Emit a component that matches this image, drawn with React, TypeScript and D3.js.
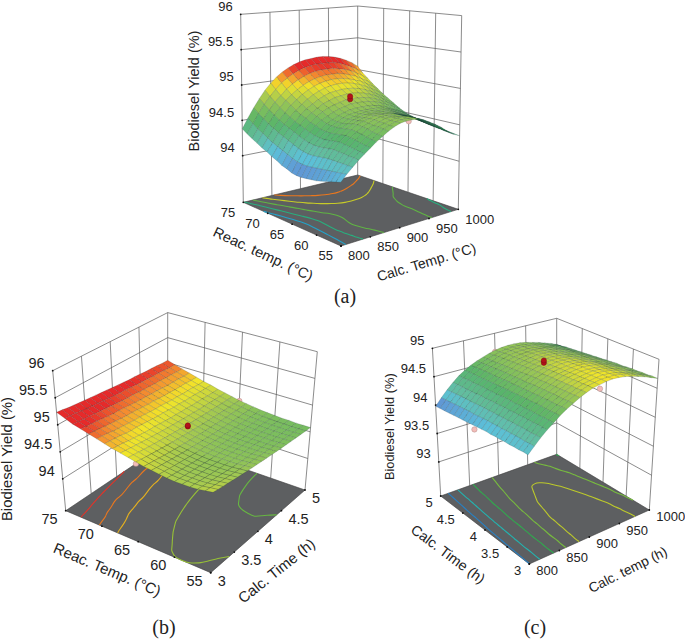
// Three response surfaces: biodiesel yield against calcination and reaction conditions
import * as d3 from "d3";

const reacTicks = [75, 70, 65, 60, 55];
const calcTicks = [800, 850, 900, 950, 1000];
const timeTicks = [3, 3.5, 4, 4.5, 5];
const timeTicksDown = [5, 4.5, 4, 3.5, 3];
const yieldTicksAB = [94, 94.5, 95, 95.5, 96];
const yieldTicksC = [93, 93.5, 94, 94.5, 95];

// panel (a): one column per calc. temp (800..1000), values from reac. temp 75 down to 55
const yieldColumnsA = [
  [94.38,94.33,94.29,94.25,94.21,94.18,94.14,94.11,94.07,94.05,94.02,94.01,94.01,94.02,94.03,94.04,94.06,94.08,94.10,94.12,94.14],
  [94.52,94.46,94.41,94.37,94.33,94.29,94.26,94.23,94.20,94.17,94.15,94.14,94.14,94.15,94.16,94.17,94.18,94.19,94.20,94.21,94.22],
  [94.65,94.59,94.54,94.49,94.45,94.41,94.38,94.35,94.32,94.29,94.27,94.26,94.26,94.27,94.28,94.29,94.29,94.29,94.29,94.29,94.29],
  [94.77,94.71,94.65,94.60,94.55,94.51,94.48,94.45,94.42,94.39,94.37,94.36,94.36,94.37,94.38,94.39,94.38,94.38,94.37,94.37,94.36],
  [94.88,94.81,94.75,94.69,94.64,94.60,94.56,94.53,94.50,94.47,94.45,94.44,94.44,94.45,94.46,94.47,94.46,94.45,94.44,94.43,94.42],
  [94.97,94.90,94.83,94.78,94.73,94.68,94.64,94.61,94.57,94.55,94.52,94.51,94.51,94.52,94.53,94.54,94.53,94.52,94.50,94.49,94.48],
  [95.05,94.98,94.91,94.85,94.80,94.75,94.71,94.67,94.64,94.61,94.58,94.57,94.57,94.58,94.59,94.60,94.59,94.58,94.56,94.55,94.54],
  [95.11,95.04,94.97,94.91,94.86,94.81,94.76,94.72,94.69,94.65,94.62,94.61,94.61,94.62,94.64,94.65,94.64,94.63,94.61,94.60,94.59],
  [95.16,95.09,95.02,94.96,94.91,94.86,94.81,94.77,94.73,94.69,94.66,94.65,94.65,94.66,94.67,94.68,94.67,94.66,94.66,94.65,94.64],
  [95.20,95.13,95.06,95.00,94.95,94.90,94.85,94.80,94.76,94.72,94.69,94.68,94.67,94.68,94.69,94.70,94.70,94.69,94.69,94.68,94.68],
  [95.23,95.16,95.09,95.03,94.98,94.93,94.88,94.83,94.78,94.74,94.71,94.69,94.69,94.70,94.71,94.72,94.72,94.72,94.71,94.71,94.71],
  [95.25,95.18,95.11,95.05,95.00,94.95,94.89,94.84,94.80,94.76,94.72,94.70,94.70,94.70,94.71,94.72,94.72,94.72,94.72,94.72,94.72],
  [95.26,95.19,95.12,95.06,95.01,94.96,94.90,94.85,94.80,94.76,94.72,94.70,94.70,94.70,94.70,94.71,94.71,94.71,94.72,94.72,94.72],
  [95.27,95.19,95.12,95.06,95.01,94.96,94.90,94.85,94.80,94.76,94.72,94.70,94.69,94.69,94.69,94.70,94.70,94.70,94.71,94.71,94.71],
  [95.27,95.19,95.12,95.06,95.00,94.95,94.89,94.84,94.79,94.75,94.71,94.69,94.68,94.68,94.67,94.67,94.67,94.67,94.67,94.68,94.68],
  [95.26,95.18,95.10,95.04,94.98,94.93,94.87,94.82,94.77,94.73,94.69,94.67,94.66,94.65,94.64,94.64,94.64,94.64,94.63,94.63,94.63],
  [95.24,95.16,95.08,95.01,94.95,94.90,94.84,94.79,94.74,94.70,94.66,94.64,94.62,94.61,94.60,94.60,94.60,94.59,94.59,94.58,94.58],
  [95.21,95.12,95.05,94.98,94.92,94.86,94.80,94.75,94.70,94.66,94.62,94.60,94.58,94.57,94.56,94.55,94.54,94.54,94.53,94.53,94.52],
  [95.17,95.08,95.00,94.93,94.87,94.81,94.75,94.70,94.66,94.62,94.58,94.56,94.54,94.53,94.51,94.50,94.49,94.48,94.47,94.46,94.45],
  [95.12,95.03,94.95,94.88,94.82,94.76,94.70,94.65,94.61,94.57,94.53,94.51,94.49,94.48,94.46,94.45,94.44,94.43,94.41,94.40,94.39],
  [95.05,94.96,94.89,94.82,94.76,94.70,94.65,94.60,94.55,94.51,94.48,94.46,94.44,94.42,94.40,94.39,94.38,94.38,94.37,94.36,94.35],
];

// panel (b): one row per reac. temp (75..55), values from calc. time 3 to 5
const yieldRowsB = [
  [95.23,95.22,95.20,95.19,95.18,95.17,95.16,95.15,95.14,95.13,95.12,95.11,95.10,95.09,95.09,95.08,95.07,95.07,95.06,95.05,95.05],
  [95.17,95.16,95.15,95.13,95.12,95.11,95.10,95.09,95.08,95.07,95.06,95.06,95.05,95.04,95.03,95.03,95.02,95.02,95.01,95.00,95.00],
  [95.11,95.10,95.09,95.08,95.07,95.06,95.05,95.04,95.03,95.02,95.01,95.01,95.00,94.99,94.99,94.98,94.98,94.97,94.97,94.96,94.96],
  [95.07,95.06,95.05,95.04,95.03,95.01,95.00,95.00,94.99,94.98,94.97,94.96,94.96,94.95,94.95,94.94,94.93,94.93,94.93,94.92,94.92],
  [95.03,95.02,95.01,94.99,94.98,94.97,94.96,94.95,94.95,94.94,94.93,94.92,94.92,94.91,94.90,94.90,94.89,94.89,94.89,94.88,94.88],
  [94.99,94.98,94.97,94.95,94.94,94.93,94.92,94.91,94.91,94.90,94.89,94.88,94.88,94.87,94.86,94.86,94.85,94.85,94.85,94.84,94.84],
  [94.95,94.94,94.93,94.92,94.90,94.89,94.89,94.88,94.87,94.86,94.85,94.85,94.84,94.83,94.83,94.82,94.82,94.82,94.81,94.81,94.81],
  [94.91,94.90,94.89,94.87,94.86,94.85,94.84,94.83,94.83,94.82,94.81,94.80,94.80,94.79,94.79,94.78,94.78,94.78,94.77,94.77,94.77],
  [94.88,94.867,94.855,94.844,94.833,94.822,94.813,94.804,94.795,94.787,94.78,94.773,94.767,94.762,94.757,94.752,94.749,94.746,94.743,94.741,94.74],
  [94.85,94.837,94.825,94.813,94.802,94.792,94.782,94.773,94.764,94.756,94.749,94.742,94.736,94.731,94.726,94.722,94.718,94.715,94.713,94.711,94.71],
  [94.82,94.807,94.794,94.782,94.771,94.761,94.751,94.741,94.733,94.725,94.718,94.711,94.705,94.699,94.695,94.691,94.687,94.684,94.682,94.681,94.68],
  [94.79,94.778,94.765,94.754,94.742,94.732,94.722,94.714,94.705,94.698,94.691,94.685,94.679,94.675,94.67,94.667,94.664,94.663,94.661,94.661,94.66],
  [94.77,94.757,94.744,94.733,94.722,94.712,94.702,94.693,94.684,94.677,94.67,94.664,94.658,94.654,94.65,94.647,94.644,94.642,94.64,94.64,94.64],
  [94.75,94.738,94.726,94.715,94.705,94.695,94.686,94.677,94.669,94.662,94.655,94.649,94.643,94.638,94.634,94.63,94.627,94.624,94.622,94.621,94.62],
  [94.73,94.719,94.709,94.699,94.689,94.68,94.672,94.664,94.657,94.65,94.644,94.638,94.633,94.628,94.624,94.62,94.617,94.615,94.613,94.611,94.61],
  [94.72,94.71,94.70,94.69,94.681,94.673,94.665,94.657,94.65,94.643,94.637,94.631,94.626,94.621,94.617,94.613,94.609,94.606,94.604,94.602,94.60],
  [94.72,94.71,94.70,94.69,94.681,94.673,94.664,94.656,94.649,94.642,94.635,94.629,94.623,94.618,94.612,94.608,94.603,94.60,94.596,94.593,94.59],
  [94.72,94.71,94.70,94.69,94.68,94.672,94.663,94.655,94.648,94.641,94.634,94.628,94.622,94.617,94.611,94.607,94.602,94.599,94.595,94.592,94.59],
  [94.73,94.719,94.708,94.698,94.687,94.678,94.668,94.66,94.651,94.643,94.635,94.628,94.621,94.615,94.608,94.603,94.597,94.593,94.588,94.584,94.58],
  [94.75,94.738,94.726,94.715,94.703,94.693,94.682,94.673,94.663,94.654,94.645,94.637,94.629,94.622,94.614,94.608,94.601,94.596,94.59,94.585,94.58],
  [94.77,94.757,94.744,94.732,94.719,94.708,94.696,94.686,94.675,94.665,94.655,94.646,94.637,94.629,94.62,94.613,94.605,94.599,94.592,94.586,94.58],
];

// panel (c): one row per calc. time (5..3), values from calc. temp 800 to 1000
const yieldRowsC = [
  [93.98,94.10,94.21,94.31,94.40,94.47,94.53,94.58,94.62,94.66,94.69,94.71,94.72,94.72,94.71,94.69,94.66,94.63,94.59,94.55,94.50],
  [93.99,94.11,94.22,94.32,94.41,94.48,94.54,94.59,94.63,94.67,94.70,94.72,94.73,94.73,94.72,94.70,94.67,94.64,94.60,94.56,94.51],
  [94.00,94.12,94.23,94.33,94.42,94.49,94.55,94.60,94.64,94.69,94.72,94.74,94.75,94.75,94.74,94.72,94.69,94.66,94.62,94.58,94.53],
  [94.01,94.13,94.24,94.33,94.42,94.49,94.56,94.61,94.65,94.70,94.73,94.75,94.76,94.76,94.75,94.73,94.70,94.67,94.63,94.59,94.54],
  [94.02,94.14,94.25,94.34,94.43,94.50,94.57,94.62,94.66,94.71,94.74,94.76,94.77,94.78,94.77,94.75,94.72,94.68,94.64,94.60,94.55],
  [94.03,94.15,94.25,94.35,94.44,94.51,94.57,94.63,94.67,94.72,94.75,94.77,94.79,94.79,94.78,94.76,94.73,94.70,94.66,94.61,94.56],
  [94.04,94.16,94.26,94.36,94.44,94.52,94.58,94.64,94.68,94.73,94.76,94.78,94.80,94.80,94.79,94.77,94.74,94.71,94.67,94.62,94.57],
  [94.05,94.16,94.27,94.36,94.45,94.52,94.59,94.64,94.69,94.74,94.77,94.79,94.81,94.81,94.80,94.78,94.75,94.72,94.68,94.63,94.58],
  [94.06,94.17,94.28,94.37,94.45,94.53,94.60,94.65,94.70,94.75,94.78,94.80,94.82,94.82,94.81,94.79,94.76,94.73,94.69,94.64,94.59],
  [94.07,94.18,94.28,94.38,94.46,94.54,94.60,94.66,94.71,94.76,94.79,94.81,94.83,94.83,94.82,94.80,94.77,94.74,94.70,94.65,94.60],
  [94.08,94.19,94.29,94.38,94.47,94.54,94.61,94.66,94.72,94.76,94.80,94.82,94.84,94.84,94.83,94.81,94.78,94.75,94.71,94.66,94.61],
  [94.09,94.19,94.29,94.39,94.47,94.55,94.61,94.67,94.73,94.77,94.81,94.83,94.85,94.85,94.84,94.82,94.79,94.76,94.72,94.67,94.62],
  [94.09,94.20,94.30,94.39,94.47,94.55,94.62,94.68,94.73,94.78,94.82,94.84,94.85,94.86,94.85,94.83,94.80,94.76,94.72,94.68,94.63],
  [94.10,94.20,94.30,94.40,94.48,94.56,94.62,94.68,94.74,94.79,94.82,94.84,94.86,94.87,94.86,94.84,94.81,94.77,94.73,94.68,94.63],
  [94.10,94.21,94.31,94.40,94.48,94.56,94.63,94.69,94.74,94.79,94.83,94.85,94.87,94.88,94.87,94.85,94.82,94.78,94.74,94.69,94.64],
  [94.11,94.21,94.31,94.41,94.49,94.57,94.63,94.69,94.75,94.80,94.84,94.86,94.88,94.88,94.87,94.85,94.82,94.79,94.75,94.70,94.65],
  [94.11,94.22,94.32,94.41,94.49,94.57,94.64,94.70,94.75,94.80,94.84,94.86,94.88,94.89,94.88,94.86,94.83,94.79,94.75,94.70,94.65],
  [94.12,94.22,94.32,94.41,94.49,94.57,94.64,94.70,94.76,94.81,94.85,94.87,94.89,94.90,94.89,94.87,94.84,94.80,94.76,94.71,94.66],
  [94.12,94.22,94.32,94.42,94.50,94.57,94.64,94.70,94.76,94.81,94.85,94.87,94.89,94.90,94.89,94.87,94.84,94.80,94.76,94.71,94.66],
  [94.13,94.23,94.33,94.42,94.50,94.58,94.65,94.71,94.77,94.82,94.86,94.88,94.90,94.90,94.90,94.88,94.85,94.81,94.77,94.72,94.67],
  [94.13,94.23,94.33,94.42,94.50,94.58,94.65,94.71,94.77,94.82,94.86,94.88,94.90,94.91,94.90,94.88,94.85,94.81,94.77,94.72,94.67],
];

const contourLevelsA = [94.205, 94.405, 94.605, 94.805, 95.005];
const contourLevelsB = [94.62, 94.72, 94.905, 95.005, 95.105];
const contourLevelsC = [94.135, 94.305, 94.505, 94.655, 94.785];

// design points: [u axis value, v axis value, yield]
const outerPointsA = [[800, 65, 94.08], [1000, 65, 94.38]];
const centerPointsA = [[900, 65, 94.86], [900, 65, 94.9]];
const outerPointsB = [[3, 65, 94.79], [4, 55, 94.72], [5, 65, 94.67]];
const centerPointsB = [[4, 65, 94.84], [4, 65, 94.86]];
const outerPointsC = [[800, 4.16, 94.0], [990, 4, 94.13], [900, 5, 94.66]];
const centerPointsC = [[900, 4, 94.89], [900, 4, 94.93]];

// yields at which each panel's surface reaches the colours of surfaceColors
const colorStopsA = [94.0, 94.08, 94.2, 94.32, 94.5, 94.78, 94.95, 95.06, 95.17];
const colorStopsB = [93.95, 94.05, 94.18, 94.3, 94.5, 94.7, 94.86, 94.97, 95.07];
const colorStopsC = [93.98, 94.05, 94.14, 94.28, 94.5, 94.78, 94.9, 95.02, 95.15];
const surfaceColors = ["#6f6db4", "#5f9bd6", "#5cc0d8", "#62bda0", "#58b46a", "#a2c852", "#f2e52a", "#f49030", "#e62a2a"];

const contourColorOf = d3.scaleLinear<string>()
  .domain([94.1, 94.25, 94.5, 94.7, 94.85, 95.0, 95.12])
  .range(["#2a6fc0", "#20b8cc", "#2fa84f", "#8cbf3a", "#e0d020", "#ea7a1e", "#e02a2a"])
  .clamp(true);

const SANS = "'Liberation Sans', Arial, sans-serif";
const SERIF = "'Liberation Serif', 'Times New Roman', serif";

type XY = [number, number];
type PanelProps = {
  grid: number[][];
  uDomain: [number, number];
  vDomain: [number, number];
  zDomain: [number, number];
  uTicks: number[];
  vTicks: number[];
  zTicks: number[];
  levels: number[];
  colorStops: number[];
  floor: { left: XY; back: XY; right: XY; front: XY };
  up: { left: XY; back: XY; right: XY; front: XY };
  outer: number[][];
  center: number[][];
  tickFont: number;
  labelDy: number;
  zTitle: { text: string; x: number; y: number; size: number };
  vTitle: { text: string; x: number; y: number; size: number; angle: number };
  uTitle: { text: string; x: number; y: number; size: number; angle: number };
  caption: { text: string; x: number; y: number };
};

function Panel(p: PanelProps) {
  const u = d3.scaleLinear().domain(p.uDomain).range([0, 1]);
  const v = d3.scaleLinear().domain(p.vDomain).range([0, 1]);
  const w = d3.scaleLinear().domain(p.zDomain).range([0, 1]);
  const colorOf = d3.scaleLinear<string>().domain(p.colorStops).range(surfaceColors).clamp(true);

  const bilinear = (c: PanelProps["floor"], a: number, b: number): XY => {
    const f = (i: 0 | 1) =>
      (1 - a) * (1 - b) * c.left[i] + a * (1 - b) * c.back[i] + a * b * c.right[i] + (1 - a) * b * c.front[i];
    return [f(0), f(1)];
  };
  // a is the fraction along u, b along v, h the fraction of the height
  const project = (a: number, b: number, h: number): XY => {
    const fl = bilinear(p.floor, a, b);
    const upv = bilinear(p.up, a, b);
    return [fl[0] + h * upv[0], fl[1] + h * upv[1]];
  };
  const line = d3.line<XY>();
  const smooth = d3.line<XY>().curve(d3.curveBasis);
  const seg = (a: XY, b: XY) => line([a, b]) as string;

  const nv = p.grid.length - 1;
  const nu = p.grid[0].length - 1;

  // back of the surface first, so that the front paints over it
  const quads: { d: string; fill: string; key: string }[] = [];
  for (let k = 0; k < nv; k++) {
    for (let i = nu - 1; i >= 0; i--) {
      const zs = [p.grid[k][i], p.grid[k][i + 1], p.grid[k + 1][i + 1], p.grid[k + 1][i]];
      const pts: XY[] = [
        project(i / nu, k / nv, w(zs[0])),
        project((i + 1) / nu, k / nv, w(zs[1])),
        project((i + 1) / nu, (k + 1) / nv, w(zs[2])),
        project(i / nu, (k + 1) / nv, w(zs[3])),
      ];
      // clockwise on screen gives a negative area here; anything else faces away
      const facing = d3.polygonArea(pts) < -3;
      const base = colorOf(d3.mean(zs) as number);
      const fill = facing ? base : "#1f7f45";
      quads.push({ d: (line(pts) as string) + "Z", fill, key: `${k}-${i}` });
    }
  }

  // floor contours from the same grid; pieces along the grid border are dropped
  const nx = nu + 1;
  const ny = nv + 1;
  const contourSets = d3.contours().size([nx, ny]).thresholds(p.levels)(p.grid.flat());
  const contourPaths: { d: string; color: string }[] = [];
  contourSets.forEach((set) => {
    set.coordinates.forEach((poly) => {
      poly.forEach((ring) => {
        let run: XY[] = [];
        const flush = () => {
          if (run.length > 1) contourPaths.push({ d: smooth(run) as string, color: contourColorOf(set.value) });
          run = [];
        };
        ring.forEach(([x, y]) => {
          if (x <= 0 || y <= 0 || x >= nx || y >= ny) {
            flush();
          } else {
            run.push(project((x - 0.5) / nu, (y - 0.5) / nv, 0));
          }
        });
        flush();
      });
    });
  });

  const wallColor = "#5a5a5a";
  const cornerL0 = project(0, 0, 0);
  const cornerL1 = project(0, 0, 1);
  const cornerB0 = project(1, 0, 0);
  const cornerB1 = project(1, 0, 1);
  const cornerR0 = project(1, 1, 0);
  const cornerR1 = project(1, 1, 1);
  const cornerF0 = project(0, 1, 0);

  const sphere = (pt: number[]) => project(u(pt[0]), v(pt[1]), w(pt[2]));

  return (
    <g fontFamily={SANS} fill="#222">
      <g stroke={wallColor} strokeWidth={0.7} fill="none">
        {p.uTicks.slice(1, -1).map((t) => (
          <path key={`lw${t}`} d={seg(project(u(t), 0, 0), project(u(t), 0, 1))} />
        ))}
        {p.vTicks.slice(1, -1).map((t) => (
          <path key={`rw${t}`} d={seg(project(1, v(t), 0), project(1, v(t), 1))} />
        ))}
        {p.zTicks.map((t) => (
          <g key={`z${t}`}>
            <path d={seg(project(0, 0, w(t)), project(1, 0, w(t)))} />
            <path d={seg(project(1, 0, w(t)), project(1, 1, w(t)))} />
          </g>
        ))}
        <path d={seg(cornerL0, cornerL1)} />
        <path d={seg(cornerB0, cornerB1)} />
        <path d={seg(cornerR0, cornerR1)} />
      </g>
      <path d={(line([cornerL0, cornerB0, cornerR0, cornerF0]) as string) + "Z"} fill="#5d5f61" stroke="#3c3c3c" strokeWidth={0.6} />
      {contourPaths.map((c, i) => (
        <path key={`c${i}`} d={c.d} fill="none" stroke={c.color} strokeWidth={1.1} />
      ))}

      {p.outer.map((pt, i) => {
        const [x, y] = sphere(pt);
        return <circle key={`o${i}`} cx={x} cy={y} r={2.7} fill="#f3bcb8" stroke="#b58f8c" strokeWidth={0.5} />;
      })}

      <g stroke="rgba(25,50,50,0.42)" strokeWidth={0.4}>
        {quads.map((q) => (
          <path key={q.key} d={q.d} fill={q.fill} />
        ))}
      </g>

      {p.center.map((pt, i) => {
        const [x, y] = sphere(pt);
        return <circle key={`r${i}`} cx={x} cy={y} r={2.6} fill="#b3121a" stroke="#7c0b10" strokeWidth={0.5} />;
      })}

      {/* height axis */}
      {p.zTicks.map((t) => {
        const [x, y] = project(0, 0, w(t));
        return (
          <g key={`zt${t}`}>
            <circle cx={x} cy={y} r={0.9} fill="#111" />
            <text x={x - 8} y={y - 7} textAnchor="end" dominantBaseline="middle" fontSize={p.tickFont}>{t}</text>
          </g>
        );
      })}
      {/* front-left axis */}
      {p.vTicks.map((t) => {
        const [x, y] = project(0, v(t), 0);
        return (
          <g key={`vt${t}`}>
            <circle cx={x} cy={y} r={0.9} fill="#111" />
            <text x={x - 8} y={y + p.labelDy} textAnchor="end" dominantBaseline="middle" fontSize={p.tickFont}>{t}</text>
          </g>
        );
      })}
      {/* front-right axis */}
      {p.uTicks.map((t) => {
        const [x, y] = project(u(t), 1, 0);
        return (
          <g key={`ut${t}`}>
            <circle cx={x} cy={y} r={0.9} fill="#111" />
            <text x={x + 7} y={y + p.labelDy} textAnchor="start" dominantBaseline="middle" fontSize={p.tickFont}>{t}</text>
          </g>
        );
      })}

      <text transform={`translate(${p.zTitle.x},${p.zTitle.y}) rotate(-90)`} textAnchor="middle" dominantBaseline="middle" fontSize={p.zTitle.size}>{p.zTitle.text}</text>
      <text transform={`translate(${p.vTitle.x},${p.vTitle.y}) rotate(${p.vTitle.angle})`} textAnchor="middle" dominantBaseline="middle" fontSize={p.vTitle.size}>{p.vTitle.text}</text>
      <text transform={`translate(${p.uTitle.x},${p.uTitle.y}) rotate(${p.uTitle.angle})`} textAnchor="middle" dominantBaseline="middle" fontSize={p.uTitle.size}>{p.uTitle.text}</text>
      <text x={p.caption.x} y={p.caption.y} textAnchor="middle" dominantBaseline="middle" fontFamily={SERIF} fontSize={20}>{p.caption.text}</text>
    </g>
  );
}

export default function App() {
  return (
    <svg width={685} height={640} style={{ position: "absolute", left: 0, top: 0, background: "#fff" }}>
      <Panel
        grid={d3.transpose(yieldColumnsA)}
        uDomain={[800, 1000]}
        vDomain={[75, 55]}
        zDomain={[93.34, 96]}
        uTicks={calcTicks}
        vTicks={reacTicks}
        zTicks={yieldTicksAB}
        levels={contourLevelsA}
        colorStops={colorStopsA}
        floor={{ left: [243.3, 202.3], back: [357.7, 175], right: [458.3, 209.3], front: [341, 246] }}
        up={{ left: [-2.6, -188], back: [0, -169], right: [3.4, -193.7], front: [-0.5, -212] }}
        outer={outerPointsA}
        center={centerPointsA}
        tickFont={13}
        labelDy={11}
        zTitle={{ text: "Biodiesel Yield (%)", x: 195, y: 91, size: 14.5 }}
        vTitle={{ text: "Reac. temp. (°C)", x: 262.7, y: 255, size: 14.5, angle: 25 }}
        uTitle={{ text: "Calc. Temp. (°C)", x: 426.7, y: 263.3, size: 14, angle: -16.7 }}
        caption={{ text: "(a)", x: 345, y: 298 }}
      />
      <Panel
        grid={yieldRowsB}
        uDomain={[3, 5]}
        vDomain={[75, 55]}
        zDomain={[93.41, 96]}
        uTicks={timeTicks}
        vTicks={reacTicks}
        zTicks={yieldTicksAB}
        levels={contourLevelsB}
        colorStops={colorStopsB}
        floor={{ left: [65.7, 510.7], back: [167.7, 442.3], right: [305, 490], front: [210.7, 572.7] }}
        up={{ left: [-13, -140], back: [0, -129.7], right: [12.3, -138.3], front: [4.5, -153] }}
        outer={outerPointsB}
        center={centerPointsB}
        tickFont={14.5}
        labelDy={9}
        zTitle={{ text: "Biodiesel Yield (%)", x: 8, y: 459, size: 14.9 }}
        vTitle={{ text: "Reac. Temp. (°C)", x: 106.7, y: 570.7, size: 15, angle: 22.9 }}
        uTitle={{ text: "Calc. Time (h)", x: 277.3, y: 571.7, size: 15, angle: -38.7 }}
        caption={{ text: "(b)", x: 164, y: 629 }}
      />
      <Panel
        grid={yieldRowsC}
        uDomain={[800, 1000]}
        vDomain={[5, 3]}
        zDomain={[92.4, 95]}
        uTicks={calcTicks}
        vTicks={timeTicksDown}
        zTicks={yieldTicksC}
        levels={contourLevelsC}
        colorStops={colorStopsC}
        floor={{ left: [440.7, 496], back: [556.7, 454.3], right: [649.3, 510], front: [529.3, 564] }}
        up={{ left: [-8.3, -147.7], back: [0, -136], right: [9.7, -150.7], front: [-2, -164] }}
        outer={outerPointsC}
        center={centerPointsC}
        tickFont={13}
        labelDy={8}
        zTitle={{ text: "Biodiesel Yield (%)", x: 390.7, y: 426.7, size: 12.8 }}
        vTitle={{ text: "Calc. Time (h)", x: 447.3, y: 555, size: 14.2, angle: 36.7 }}
        uTitle={{ text: "Calc. temp (h)", x: 628.3, y: 570.7, size: 13.7, angle: -26.6 }}
        caption={{ text: "(c)", x: 535, y: 629 }}
      />
    </svg>
  );
}
